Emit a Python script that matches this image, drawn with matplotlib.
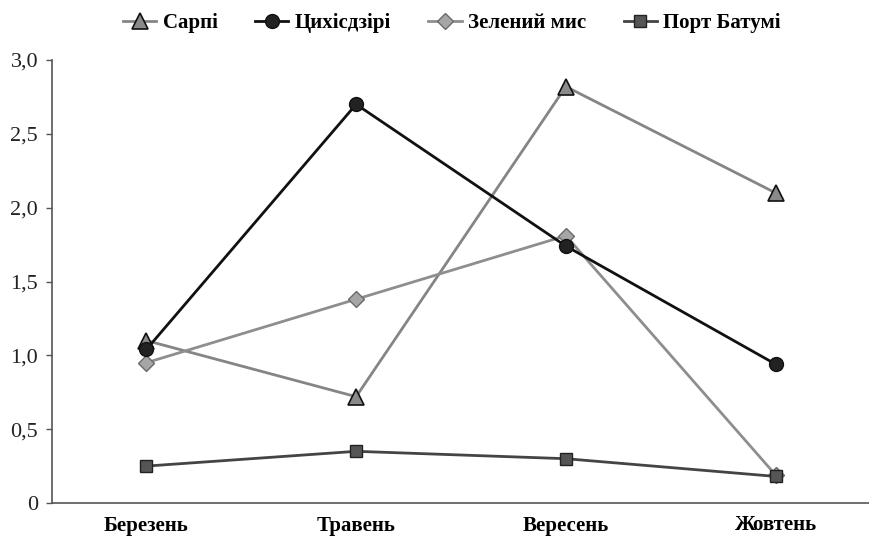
import numpy as np
import matplotlib.pyplot as plt
from matplotlib.ticker import FixedLocator

plt.rcParams['font.family'] = ['Liberation Serif', 'DejaVu Serif']

months = ['Березень', 'Травень', 'Вересень', 'Жовтень']
sarpi = [1.10, 0.72, 2.82, 2.10]
tsykhisdziri = [1.04, 2.70, 1.74, 0.94]
zelenyi_mys = [0.95, 1.38, 1.81, 0.19]
port_batumi = [0.25, 0.35, 0.30, 0.18]
yticks = [0, 0.5, 1.0, 1.5, 2.0, 2.5, 3.0]
ytick_labels = ['0', '0,5', '1,0', '1,5', '2,0', '2,5', '3,0']

fig = plt.figure(figsize=(8.69, 5.55), dpi=100)
ax = fig.add_axes([52 / 869, 52 / 555, 818 / 869, 443 / 555])

x = np.arange(len(months))
ax.plot(x, sarpi, color='#858585', lw=2, marker='^', ms=11,
        mfc='#8a8a8a', mec='#111111', mew=1.2, label='Сарпі', zorder=3)
ax.plot(x, tsykhisdziri, color='#111111', lw=2, marker='o', ms=10,
        mfc='#222222', mec='#111111', label='Цихісдзірі', zorder=4)
ax.plot(x, zelenyi_mys, color='#8e8e8e', lw=2, marker='D', ms=8,
        mfc='#a6a6a6', mec='#6a6a6a', label='Зелений мис', zorder=3)
ax.plot(x, port_batumi, color='#444444', lw=2, marker='s', ms=9,
        mfc='#555555', mec='#222222', label='Порт Батумі', zorder=3)

ax.set_xlim(-0.45, 3.45)
ax.set_ylim(0, 3.0)
ax.set_xticks(x)
ax.set_xticklabels(months, fontsize=15, fontweight='bold')
ax.tick_params(axis='x', length=0, pad=9)
ax.yaxis.set_major_locator(FixedLocator(yticks))
ax.set_yticklabels(ytick_labels, fontsize=16, color='#222222')
ax.tick_params(axis='y', length=4, width=1, color='#555555', pad=6)

for s in ['top', 'right']:
    ax.spines[s].set_visible(False)
for s in ['left', 'bottom']:
    ax.spines[s].set_color('#555555')
    ax.spines[s].set_linewidth(1.2)

fig.legend(loc='upper center', bbox_to_anchor=(0.52, 1.01), ncol=4, frameon=False,
           prop={'family': ['Liberation Serif', 'DejaVu Serif'], 'size': 15, 'weight': 'bold'},
           handlelength=1.6, columnspacing=1.8, handletextpad=0.3)

fig.savefig('out.png', dpi=100)
